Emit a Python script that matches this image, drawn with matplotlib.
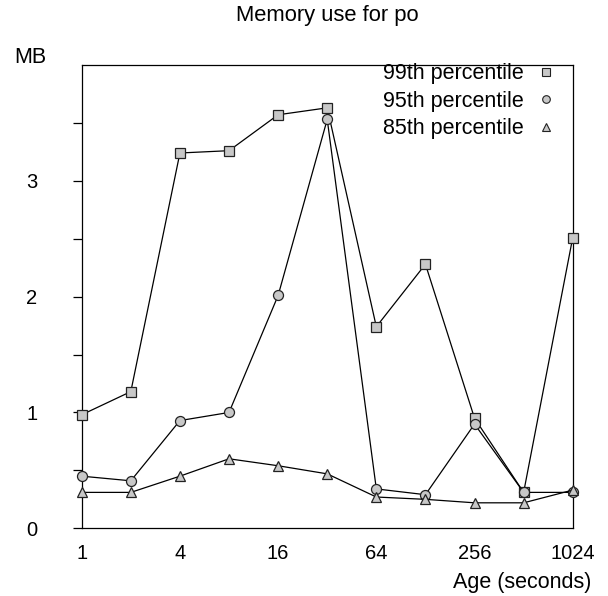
import matplotlib
matplotlib.use("Agg")
import matplotlib.pyplot as plt
from matplotlib.lines import Line2D

plt.rcParams['font.family'] = ['Liberation Sans', 'DejaVu Sans']

# Age in seconds and memory use in MB
ages = [1, 2, 4, 8, 16, 32, 64, 128, 256, 512, 1024]
p99 = [0.98, 1.18, 3.24, 3.26, 3.57, 3.63, 1.74, 2.28, 0.95, 0.31, 2.51]
p95 = [0.45, 0.41, 0.93, 1.00, 2.01, 3.53, 0.34, 0.29, 0.90, 0.31, 0.31]
p85 = [0.31, 0.31, 0.45, 0.60, 0.54, 0.47, 0.27, 0.25, 0.22, 0.22, 0.33]

xtick_vals = [1, 4, 16, 64, 256, 1024]
ytick_vals = [0, 1, 2, 3]
labels = ["99th percentile", "95th percentile", "85th percentile"]
markers = ["s", "o", "^"]

face = "#c8c8c8"
edge = "#222222"
fs = 15.5
tick_fs = 14.5

fig = plt.figure(figsize=(6.08, 5.96), dpi=100)
ax = fig.add_axes([0.1344, 0.1136, 0.8076, 0.7774])

for vals, m in zip([p99, p95, p85], markers):
    ax.plot(ages, vals, color="black", lw=0.9, marker=m, ms=7.2,
            mfc=face, mec=edge, mew=0.9, clip_on=False, zorder=3)

ax.set_xscale("log", base=2)
ax.set_xlim(1, 1024)
ax.set_ylim(0, 4)
ax.set_xticks(xtick_vals)
ax.set_xticklabels([str(v) for v in xtick_vals])
ax.xaxis.set_minor_locator(plt.NullLocator())
ax.set_yticks(ytick_vals)
ax.set_yticklabels([str(v) for v in ytick_vals])
ax.set_yticks([0.5, 1.5, 2.5, 3.5], minor=True)
ax.tick_params(axis="x", length=0, pad=11.5, labelsize=tick_fs)
ax.tick_params(axis="y", which="both", direction="out", length=6.5, width=0.9,
               pad=25.5, labelsize=tick_fs)
for s in ax.spines.values():
    s.set_linewidth(0.9)

# legend: markers only, placed to the right of the text
handles = [Line2D([], [], ls="none", marker=m, ms=5.5, mfc=face, mec=edge, mew=0.8)
           for m in markers]
ax.legend(handles, labels, loc="upper right", bbox_to_anchor=(0.963, 1.0032),
          frameon=False, markerfirst=False, fontsize=fs, handlelength=0.8,
          handletextpad=0.62, labelspacing=0.30, borderaxespad=0, borderpad=0)

fig.text(0.5378, 0.965, "Memory use for po", ha="center", va="baseline", fontsize=15.8)
fig.text(0.0493, 0.894, "MB", ha="center", va="baseline", fontsize=fs)
fig.text(0.973, 0.0134, "Age (seconds)", ha="right", va="baseline", fontsize=fs)

fig.savefig("out.png", dpi=100)
